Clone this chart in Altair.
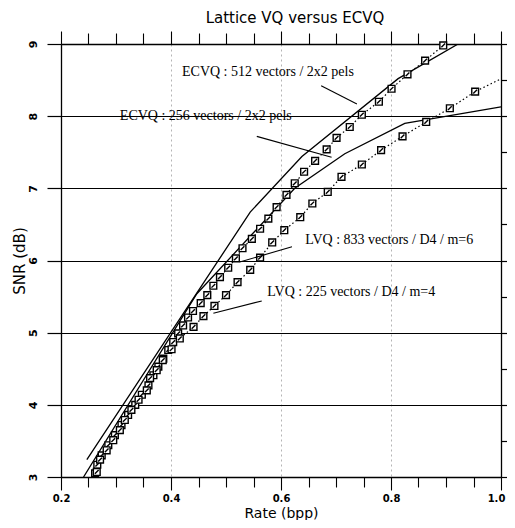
import altair as alt
import pandas as pd

# ---------------- data ----------------
ecvq512_rate = [0.247, 0.544, 0.638, 0.813, 0.922]
ecvq512_snr = [3.24, 6.67, 7.44, 8.52, 9.00]

ecvq256_rate = [0.241, 0.447, 0.625, 0.716, 0.825, 1.000]
ecvq256_snr = [3.00, 5.54, 7.00, 7.48, 7.90, 8.13]

lvq833_rate = [0.262, 0.266, 0.274, 0.286, 0.298, 0.310, 0.322, 0.335, 0.347, 0.359,
               0.368, 0.377, 0.386, 0.395, 0.404, 0.413, 0.422, 0.431, 0.440, 0.454,
               0.466, 0.477, 0.489, 0.504, 0.518, 0.530, 0.547, 0.562, 0.577, 0.592,
               0.610, 0.625, 0.642, 0.662, 0.683, 0.701, 0.725, 0.747, 0.778, 0.801,
               0.830, 0.862, 0.895]
lvq833_snr = [3.05, 3.17, 3.30, 3.44, 3.58, 3.72, 3.86, 4.00, 4.14, 4.27,
              4.41, 4.53, 4.64, 4.76, 4.87, 4.99, 5.10, 5.21, 5.30, 5.41,
              5.52, 5.65, 5.77, 5.90, 6.03, 6.17, 6.30, 6.44, 6.58, 6.74,
              6.91, 7.07, 7.23, 7.38, 7.54, 7.70, 7.85, 8.02, 8.20, 8.38,
              8.58, 8.77, 8.98]

lvq225_rate = [0.265, 0.271, 0.283, 0.295, 0.307, 0.316, 0.328, 0.341, 0.356, 0.362,
               0.374, 0.385, 0.401, 0.416, 0.441, 0.459, 0.479, 0.500, 0.521, 0.544,
               0.562, 0.584, 0.606, 0.635, 0.657, 0.685, 0.710, 0.747, 0.782, 0.821,
               0.864, 0.907, 0.953]
lvq225_snr = [3.07, 3.24, 3.37, 3.51, 3.65, 3.79, 3.93, 4.07, 4.20, 4.37,
              4.48, 4.62, 4.77, 4.92, 5.08, 5.23, 5.37, 5.52, 5.70, 5.87,
              6.04, 6.25, 6.42, 6.60, 6.79, 6.95, 7.16, 7.33, 7.53, 7.72,
              7.92, 8.11, 8.34]
# dotted curve of the 225-vector LVQ continues past its last marker
lvq225_tail_rate = [0.998]
lvq225_tail_snr = [8.51]

ann_text = ["ECVQ : 512 vectors / 2x2 pels", "ECVQ : 256 vectors / 2x2 pels",
            "LVQ : 833 vectors / D4 / m=6", "LVQ : 225 vectors / D4 / m=4"]
ann_rate = [0.420, 0.307, 0.644, 0.575]
ann_snr = [8.61, 8.00, 6.28, 5.57]
lead_rate1 = [0.673, 0.556, 0.620, 0.565]
lead_snr1 = [8.42, 7.72, 6.19, 5.44]
lead_rate2 = [0.738, 0.692, 0.525, 0.477]
lead_snr2 = [8.17, 7.43, 5.98, 5.27]

x_ticks = [0.2, 0.25, 0.3, 0.35, 0.4, 0.45, 0.5, 0.55, 0.6, 0.65, 0.7, 0.75,
           0.8, 0.85, 0.9, 0.95, 1.0]
y_ticks = [3, 3.5, 4, 4.5, 5, 5.5, 6, 6.5, 7, 7.5, 8, 8.5, 9]

# ---------------- tables ----------------
ecvq_df = pd.concat([
    pd.DataFrame({"rate": ecvq512_rate, "snr": ecvq512_snr, "series": "ECVQ 512"}),
    pd.DataFrame({"rate": ecvq256_rate, "snr": ecvq256_snr, "series": "ECVQ 256"}),
])
lvq_pts = pd.concat([
    pd.DataFrame({"rate": lvq833_rate, "snr": lvq833_snr, "series": "LVQ 833"}),
    pd.DataFrame({"rate": lvq225_rate, "snr": lvq225_snr, "series": "LVQ 225"}),
])
lvq_line = pd.concat([
    lvq_pts,
    pd.DataFrame({"rate": lvq225_tail_rate, "snr": lvq225_tail_snr, "series": "LVQ 225"}),
])
ann_df = pd.DataFrame({"text": ann_text, "rate": ann_rate, "snr": ann_snr})
lead_df = pd.DataFrame({"r1": lead_rate1, "s1": lead_snr1, "r2": lead_rate2, "s2": lead_snr2})

# ---------------- scales & axes ----------------
xs = alt.Scale(domain=[0.2, 1.0], nice=False, zero=False)
ys = alt.Scale(domain=[3, 9], nice=False, zero=False)

def cond(test, a, b):
    return {"condition": {"test": test, "value": a}, "value": b}

Y_MAJOR = "datum.value % 1 == 0"
X_MAJOR = "abs(datum.value*10 - round(datum.value*10)) < 0.01 && round(datum.value*10) % 2 == 0"
X_GRID = "datum.value > 0.3 && datum.value < 0.9 && " + X_MAJOR

left_axis = alt.Axis(
    orient="left", values=y_ticks, format="d",
    labelExpr=Y_MAJOR + " ? datum.label : ''",
    labelAngle=-90, labelAlign="center", labelBaseline="alphabetic",
    labelFont="DejaVu Sans", labelFontSize=11, labelFontWeight="bold", labelColor="black",
    labelPadding=11, labelFlush=False, labelOverlap=False,
    tickSize=cond(Y_MAJOR, 14, 9), tickColor="black", tickWidth=1.2,
    grid=True, gridColor="black", gridWidth=1.2, gridOpacity=cond(Y_MAJOR, 1, 0),
    domainColor="black", domainWidth=1.3,
    title="SNR (dB)", titleFont="DejaVu Sans", titleFontSize=15, titleFontWeight="normal",
    titleColor="black", titlePadding=0,
)
right_axis = alt.Axis(
    orient="right", values=y_ticks, labels=False,
    tickSize=cond(Y_MAJOR, 14, 10), tickColor="black", tickWidth=1.2,
    grid=False, domainColor="black", domainWidth=1.3, title="",
)
bottom_axis = alt.Axis(
    orient="bottom", values=x_ticks, format=".1f",
    labelExpr="(" + X_MAJOR + ") ? datum.label : ''",
    labelFont="DejaVu Sans", labelFontSize=10, labelFontWeight="bold", labelColor="black",
    labelPadding=3, labelFlush=False, labelOverlap=False,
    labelOffset=cond("datum.value > 0.99", -5, 0),
    tickSize=cond(X_MAJOR, 13, 10), tickColor="black", tickWidth=1.1,
    grid=True, gridColor="#b4b4b4", gridWidth=1, gridDash=[2, 3],
    gridOpacity=cond(X_GRID, 1, 0),
    domainColor="black", domainWidth=1.3,
    title="Rate (bpp)", titleFont="DejaVu Sans", titleFontSize=14, titleFontWeight="normal",
    titleColor="black", titleBaseline="alphabetic", titleY=40,
)
top_axis = alt.Axis(
    orient="top", values=x_ticks, labels=False,
    tickSize=cond(X_MAJOR, 13, 11), tickColor="black", tickWidth=1.1,
    grid=False, domainColor="black", domainWidth=1.3, title="",
)

# ---------------- layers ----------------
ecvq = alt.Chart(ecvq_df).mark_line(color="black", strokeWidth=1.3, clip=True).encode(
    x=alt.X("rate:Q", scale=xs, axis=bottom_axis),
    y=alt.Y("snr:Q", scale=ys, axis=left_axis),
    detail="series:N",
    order="rate:Q",
)

lvq_lines = alt.Chart(lvq_line).mark_line(
    color="black", strokeWidth=1.2, strokeDash=[1.5, 2.5], clip=True
).encode(
    x=alt.X("rate:Q", scale=xs, axis=None),
    y=alt.Y("snr:Q", scale=ys, axis=None),
    detail="series:N",
    order="rate:Q",
)

marker_path = "M-1,-1L1,-1L1,1L-1,1Z M-0.55,0.55L0.55,-0.55"
lvq_marks = alt.Chart(lvq_pts).mark_point(
    shape=marker_path, size=46, filled=False, fill="white", fillOpacity=1,
    stroke="black", strokeWidth=1.4, opacity=1,
).encode(
    x=alt.X("rate:Q", scale=xs, axis=None),
    y=alt.Y("snr:Q", scale=ys, axis=None),
)

labels = alt.Chart(ann_df).mark_text(
    font="Liberation Serif", fontSize=14, align="left", baseline="middle", color="black"
).encode(
    x=alt.X("rate:Q", scale=xs, axis=None),
    y=alt.Y("snr:Q", scale=ys, axis=None),
    text="text:N",
)

leaders = alt.Chart(lead_df).mark_rule(color="black", strokeWidth=1.1).encode(
    x=alt.X("r1:Q", scale=xs, axis=top_axis),
    y=alt.Y("s1:Q", scale=ys, axis=right_axis),
    x2="r2:Q",
    y2="s2:Q",
)

chart = alt.layer(ecvq, lvq_lines, lvq_marks, labels, leaders).resolve_axis(
    x="independent", y="independent"
).properties(
    width=440,
    height=433,
    autosize=alt.AutoSizeParams(type="none"),
    padding={"left": 53, "top": 36, "right": 6, "bottom": 43},
    title=alt.TitleParams(
        text="Lattice VQ versus ECVQ", font="DejaVu Sans", fontSize=15,
        fontWeight="normal", color="black", anchor="middle", dx=14, offset=4,
    ),
).configure_view(stroke=None).configure(background="white")

chart.save("out.html", embed_options={"renderer": "svg", "actions": False})
